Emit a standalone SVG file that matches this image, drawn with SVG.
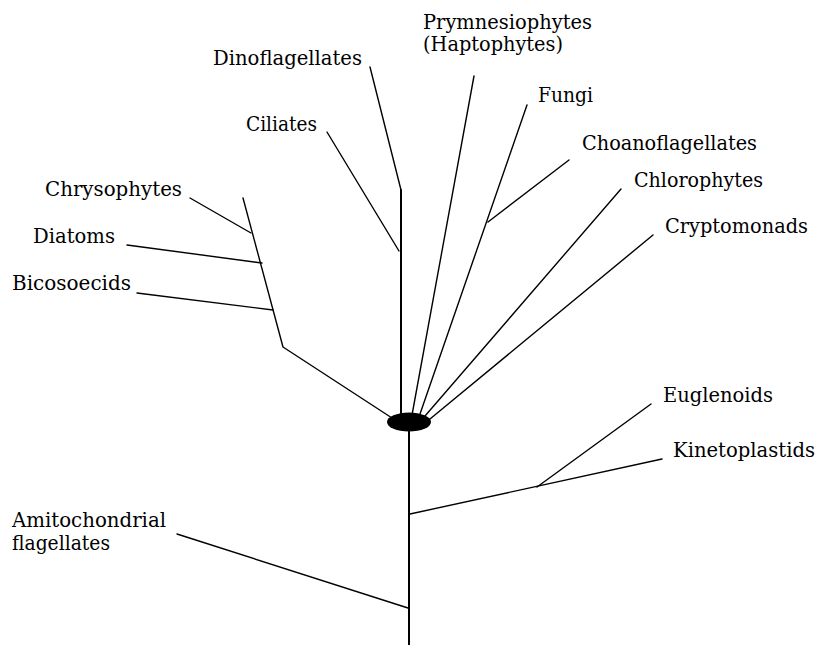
<svg xmlns="http://www.w3.org/2000/svg" width="817" height="645" viewBox="0 0 817 645">
<style>
.l{font-family:"DejaVu Serif","Liberation Serif",serif;font-size:19.5px;fill:#000}
.c line,.c polyline{stroke:#000;stroke-width:1.4;fill:none;stroke-linecap:round;stroke-linejoin:round}
.c .t{stroke-width:2}
</style>
<rect width="817" height="645" fill="#fff"/>
<g id="connectors" class="c">
<line class="t" x1="409" y1="425" x2="409" y2="645"/>
<line class="t" x1="401" y1="190" x2="401" y2="418"/>
<line x1="401" y1="190" x2="370" y2="67"/>
<line x1="399" y1="251" x2="327" y2="132"/>
<line x1="412" y1="415" x2="474" y2="76"/>
<line x1="420" y1="414" x2="527" y2="105"/>
<line x1="488" y1="222" x2="569" y2="160"/>
<line x1="425" y1="416" x2="621" y2="189"/>
<line x1="430" y1="419" x2="653" y2="235"/>
<polyline points="392,418 283,347 243,198"/>
<line x1="190" y1="198" x2="251" y2="233"/>
<line x1="127" y1="245" x2="262" y2="263"/>
<line x1="137" y1="293" x2="273" y2="310"/>
<line x1="410" y1="514" x2="662" y2="459"/>
<line x1="537" y1="487" x2="651" y2="404"/>
<line x1="177" y1="534" x2="408" y2="608"/>
</g>
<g id="root"><ellipse cx="409" cy="422" rx="22" ry="9.5" fill="#000"/></g>
<g id="dinoflagellates"><text class="l" x="213" y="65" textLength="149" lengthAdjust="spacingAndGlyphs">Dinoflagellates</text></g>
<g id="prymnesiophytes"><text class="l" x="423" y="29" textLength="169" lengthAdjust="spacingAndGlyphs">Prymnesiophytes</text><text class="l" x="423" y="51" textLength="140" lengthAdjust="spacingAndGlyphs">(Haptophytes)</text></g>
<g id="ciliates"><text class="l" x="246" y="131" textLength="71" lengthAdjust="spacingAndGlyphs">Ciliates</text></g>
<g id="fungi"><text class="l" x="538" y="102" textLength="55" lengthAdjust="spacingAndGlyphs">Fungi</text></g>
<g id="choanoflagellates"><text class="l" x="582" y="150" textLength="175" lengthAdjust="spacingAndGlyphs">Choanoflagellates</text></g>
<g id="chlorophytes"><text class="l" x="634" y="187" textLength="129" lengthAdjust="spacingAndGlyphs">Chlorophytes</text></g>
<g id="cryptomonads"><text class="l" x="665" y="233" textLength="143" lengthAdjust="spacingAndGlyphs">Cryptomonads</text></g>
<g id="euglenoids"><text class="l" x="663" y="402" textLength="110" lengthAdjust="spacingAndGlyphs">Euglenoids</text></g>
<g id="kinetoplastids"><text class="l" x="673" y="457" textLength="142" lengthAdjust="spacingAndGlyphs">Kinetoplastids</text></g>
<g id="chrysophytes"><text class="l" x="45" y="196" textLength="137" lengthAdjust="spacingAndGlyphs">Chrysophytes</text></g>
<g id="diatoms"><text class="l" x="33" y="243" textLength="82" lengthAdjust="spacingAndGlyphs">Diatoms</text></g>
<g id="bicosoecids"><text class="l" x="12" y="290" textLength="119" lengthAdjust="spacingAndGlyphs">Bicosoecids</text></g>
<g id="amitochondrial"><text class="l" x="12" y="527" textLength="154" lengthAdjust="spacingAndGlyphs">Amitochondrial</text><text class="l" x="12" y="550" textLength="98" lengthAdjust="spacingAndGlyphs">flagellates</text></g>
</svg>
